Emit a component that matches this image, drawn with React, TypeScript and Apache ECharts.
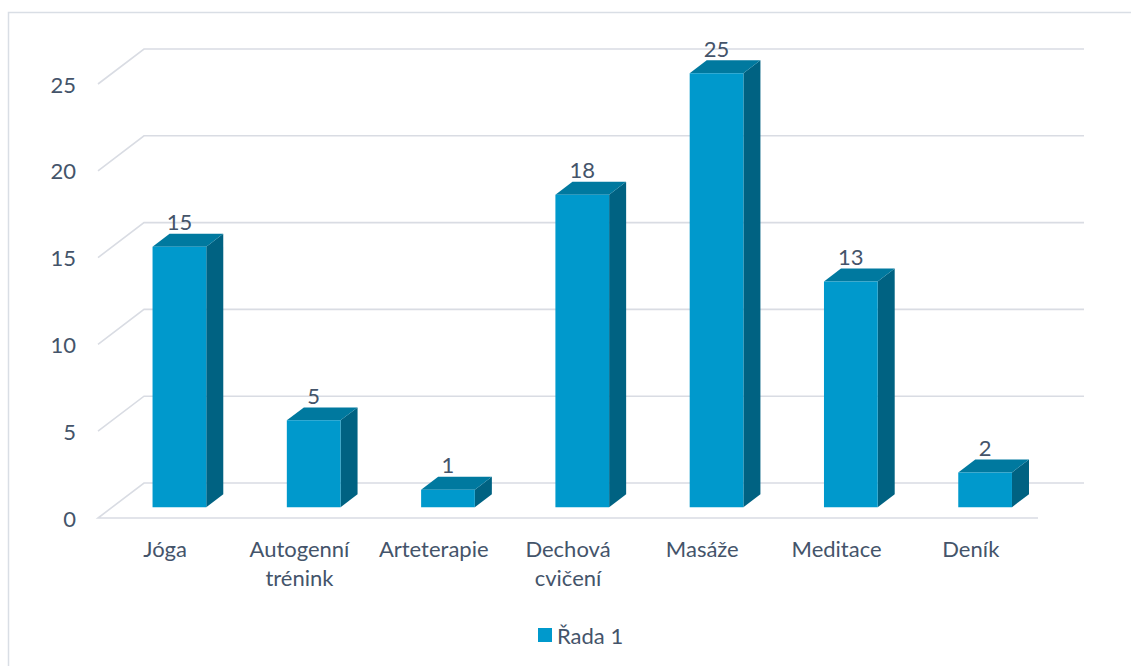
import React, { useEffect, useRef } from "react";
import * as echarts from "echarts";

const categories = ["Jóga", "Autogenní\ntrénink", "Arteterapie", "Dechová\ncvičení", "Masáže", "Meditace", "Deník"];
const values = [15, 5, 1, 18, 25, 13, 2];
const yTicks = [0, 5, 10, 15, 20, 25];
const seriesName = "Řada 1";

// 3D projection of the plot: depth of the floor and where the bars sit in it
const DEPTH_X = 46;
const DEPTH_Y = -35;
const BAR_FRONT = 0.31;
const BAR_DEPTH = 0.37;
const BAR_WIDTH = 0.4;

const TEXT = "#44546A";
const GRID = "#D9DCE3";
const FRONT = "#0099CC";
const TOP = "#00799F";
const SIDE = "#006282";
const FONT = "Lato, 'Open Sans', sans-serif";
const FONT_SIZE = 22;

export default function App() {
  const ref = useRef<HTMLDivElement>(null);

  useEffect(() => {
    if (!ref.current) return;
    const chart = echarts.init(ref.current, null, { renderer: "svg" });

    const gridRender = (params: any, api: any) => {
      const cs = params.coordSys;
      const v = api.value(1);
      const y = api.coord([0, v])[1];
      const x0 = cs.x;
      const x1 = cs.x + cs.width;
      const pts =
        v === 0
          ? [
              [x1, y],
              [x0, y],
              [x0 + DEPTH_X, y + DEPTH_Y],
              [x1 + DEPTH_X, y + DEPTH_Y],
            ]
          : [
              [x0, y],
              [x0 + DEPTH_X, y + DEPTH_Y],
              [x1 + DEPTH_X, y + DEPTH_Y],
            ];
      return {
        type: "polyline",
        shape: { points: pts },
        style: { stroke: GRID, lineWidth: 1.6, fill: "none" },
        silent: true,
      };
    };

    const barRender = (params: any, api: any) => {
      const idx = api.value(0);
      const v = api.value(1);
      const base = api.coord([idx, 0]);
      const top = api.coord([idx, v]);
      const band = api.size([1, 0])[0];
      const w = band * BAR_WIDTH;
      const ox = DEPTH_X * BAR_FRONT;
      const oy = DEPTH_Y * BAR_FRONT;
      const dx = DEPTH_X * BAR_DEPTH;
      const dy = DEPTH_Y * BAR_DEPTH;
      const cx = base[0] + ox;
      const xa = cx - w / 2;
      const xb = cx + w / 2;
      const yb = base[1] + oy;
      const yt = top[1] + oy;
      return {
        type: "group",
        children: [
          {
            type: "polygon",
            shape: { points: [[xb, yt], [xb + dx, yt + dy], [xb + dx, yb + dy], [xb, yb]] },
            style: { fill: SIDE },
          },
          {
            type: "polygon",
            shape: { points: [[xa, yt], [xa + dx, yt + dy], [xb + dx, yt + dy], [xb, yt]] },
            style: { fill: TOP },
          },
          {
            type: "rect",
            shape: { x: xa, y: yt, width: w, height: yb - yt },
            style: { fill: FRONT },
          },
          {
            type: "text",
            x: cx,
            y: yt + dy - 12,
            style: {
              text: String(v),
              fill: TEXT,
              font: `${FONT_SIZE}px ${FONT}`,
              align: "center",
              verticalAlign: "middle",
            },
          },
        ],
      };
    };

    chart.setOption({
      animation: false,
      backgroundColor: "#ffffff",
      textStyle: { fontFamily: FONT },
      graphic: [
        {
          type: "rect",
          shape: { x: 8.5, y: 12.5, width: 1200, height: 700 },
          style: { fill: "none", stroke: "#D9DEE5", lineWidth: 1.5 },
          silent: true,
          z: -10,
        },
      ],
      grid: { left: 98, right: 93, top: 84, bottom: 148, containLabel: false },
      legend: {
        left: 533,
        top: 619,
        itemWidth: 14,
        itemHeight: 14,
        itemGap: 6,
        data: [{ name: seriesName, icon: "rect" }],
        textStyle: { color: TEXT, fontSize: FONT_SIZE, fontFamily: FONT },
      },
      xAxis: {
        type: "category",
        data: categories,
        axisLine: { show: false },
        axisTick: { show: false },
        axisLabel: {
          interval: 0,
          color: TEXT,
          fontSize: FONT_SIZE,
          fontFamily: FONT,
          lineHeight: 29,
          margin: 16,
        },
      },
      yAxis: {
        type: "value",
        min: 0,
        max: 25,
        interval: 5,
        axisLine: { show: false },
        axisTick: { show: false },
        splitLine: { show: false },
        axisLabel: { color: TEXT, fontSize: FONT_SIZE, fontFamily: FONT, margin: 22 },
      },
      series: [
        {
          type: "custom",
          name: "grid",
          renderItem: gridRender,
          data: yTicks.map((v) => [0, v]),
          encode: { x: 0, y: 1 },
          clip: false,
          silent: true,
          z: 1,
        },
        {
          type: "custom",
          name: seriesName,
          renderItem: barRender,
          data: values.map((v, i) => [i, v]),
          encode: { x: 0, y: 1 },
          itemStyle: { color: FRONT },
          clip: false,
          z: 2,
        },
      ],
    });

    return () => chart.dispose();
  }, []);

  return (
    <div
      ref={ref}
      style={{ position: "fixed", left: 0, top: 0, width: 1131, height: 666 }}
    />
  );
}
